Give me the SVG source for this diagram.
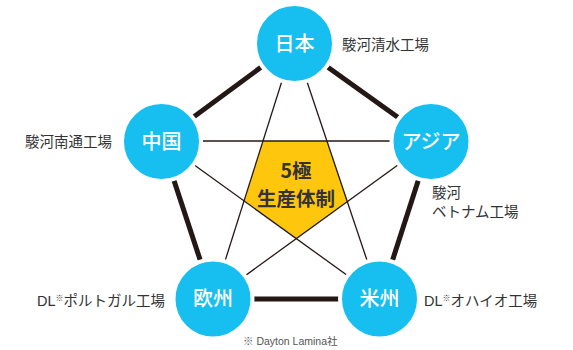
<svg xmlns="http://www.w3.org/2000/svg" width="573" height="350" viewBox="0 0 573 350">
<style>
.thick{stroke:#231815;stroke-width:5;fill:none}
.thin{stroke:#231815;stroke-width:1.3;fill:none}
.node circle{fill:#17BEF0;stroke:#fff;stroke-width:4}
.nl{font-family:"Noto Sans CJK JP","Noto Sans",sans-serif;font-size:20px;font-weight:500;fill:#fff;text-anchor:middle}
.lb{font-family:"Noto Sans CJK JP","Noto Sans",sans-serif;font-size:14.5px;fill:#333}
.lbl{font-family:"Liberation Sans","Noto Sans CJK JP",sans-serif;font-size:14.5px;fill:#333}
.ct{font-family:"Noto Sans CJK JP",sans-serif;font-size:19.5px;font-weight:bold;fill:#333;text-anchor:middle}
.cap{font-family:"Liberation Sans","Noto Sans CJK JP",sans-serif;font-size:10.5px;fill:#555}
</style>
<rect width="573" height="350" fill="#fff"/>
<polygon id="core" points="263,141 327,141 347.5,201.5 296.5,238.5 244.5,201" fill="#FFC60E"/>
<g id="connectors">
<line class="thick" x1="294" y1="43" x2="161" y2="141"/>
<line class="thick" x1="294" y1="43" x2="431" y2="141"/>
<line class="thick" x1="161" y1="141" x2="213" y2="299"/>
<line class="thick" x1="431" y1="141" x2="380" y2="299"/>
<line class="thick" x1="213" y1="299" x2="380" y2="299"/>
<line class="thin" x1="294" y1="43" x2="213" y2="299"/>
<line class="thin" x1="294" y1="43" x2="380" y2="299"/>
<line class="thin" x1="161" y1="141" x2="431" y2="141"/>
<line class="thin" x1="161" y1="141" x2="380" y2="299"/>
<line class="thin" x1="431" y1="141" x2="213" y2="299"/>
</g>
<g id="center">
<text class="ct" x="296" y="177.5">5極</text>
<text class="ct" x="296" y="206">生産体制</text>
</g>
<g id="japan" class="node">
<circle cx="294.5" cy="43.5" r="39.5"/>
<text class="nl" x="294.5" y="50.5">日本</text>
<text class="lb" x="342" y="50">駿河清水工場</text>
</g>
<g id="china" class="node">
<circle cx="161.5" cy="141.5" r="39.5"/>
<text class="nl" x="161.5" y="148.5">中国</text>
<text class="lb" x="25" y="147">駿河南通工場</text>
</g>
<g id="asia" class="node">
<circle cx="431" cy="141.5" r="39.5"/>
<text class="nl" x="431" y="148.5">アジア</text>
<text class="lb" x="432" y="198">駿河</text>
<text class="lb" x="432" y="217">ベトナム工場</text>
</g>
<g id="europe" class="node">
<circle cx="213" cy="299" r="39.5"/>
<text class="nl" x="213" y="306">欧州</text>
<text class="lbl" x="37" y="306">DL<tspan font-size="8" dy="-5">※</tspan><tspan dy="5">ポルトガル工場</tspan></text>
</g>
<g id="america" class="node">
<circle cx="379.5" cy="299" r="39.5"/>
<text class="nl" x="379.5" y="306">米州</text>
<text class="lbl" x="424" y="306">DL<tspan font-size="8" dy="-5">※</tspan><tspan dy="5">オハイオ工場</tspan></text>
</g>
<text class="cap" x="243" y="344.5">※ Dayton Lamina社</text>
</svg>
